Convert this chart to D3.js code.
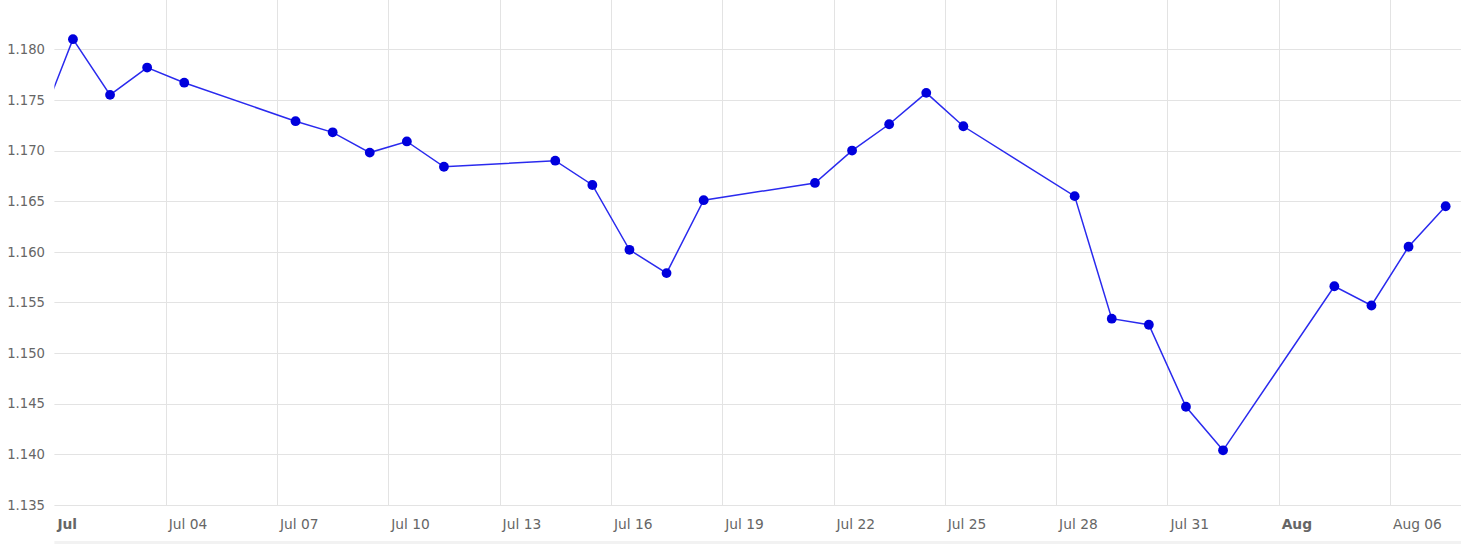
<!DOCTYPE html>
<html lang="en">
<head>
<meta charset="UTF-8">
<title>Rate chart</title>
<style>
  body { margin: 0; background: #fff; }
  svg { display: block; font-family: "DejaVu Sans", Verdana, sans-serif; }
</style>
</head>
<body>
<svg width="1461" height="544"></svg>
<script src="https://d3js.org/d3.v7.min.js"></script>
<script>
// trading days (Jun 30 is clipped at the left edge)
var dates = ["2025-06-30","2025-07-01","2025-07-02","2025-07-03","2025-07-04",
  "2025-07-07","2025-07-08","2025-07-09","2025-07-10","2025-07-11",
  "2025-07-14","2025-07-15","2025-07-16","2025-07-17","2025-07-18",
  "2025-07-21","2025-07-22","2025-07-23","2025-07-24","2025-07-25",
  "2025-07-28","2025-07-29","2025-07-30","2025-07-31","2025-08-01",
  "2025-08-04","2025-08-05","2025-08-06","2025-08-07"];
var values = [1.1716, 1.1810, 1.1755, 1.1782, 1.1767,
  1.1729, 1.1718, 1.1698, 1.1709, 1.1684,
  1.1690, 1.1666, 1.1602, 1.1579, 1.1651,
  1.1668, 1.1700, 1.1726, 1.1757, 1.1724,
  1.1655, 1.1534, 1.1528, 1.1447, 1.1404,
  1.1566, 1.1547, 1.1605, 1.1645];

var yTicks = [1.135, 1.140, 1.145, 1.150, 1.155, 1.160, 1.165, 1.170, 1.175, 1.180];
var xTickDates = ["2025-07-01","2025-07-04","2025-07-07","2025-07-10","2025-07-13",
  "2025-07-16","2025-07-19","2025-07-22","2025-07-25","2025-07-28","2025-07-31",
  "2025-08-03","2025-08-06"];
var xTickLabels = ["Jul","Jul 04","Jul 07","Jul 10","Jul 13","Jul 16","Jul 19",
  "Jul 22","Jul 25","Jul 28","Jul 31","Aug","Aug 06"];
var boldLabels = ["Jul","Aug"];

var svg = d3.select("svg");
var W = +svg.attr("width"), H = +svg.attr("height");
var pLeft = 54.4, pRight = W, pTop = 0, pBottom = 505;

var parse = d3.utcParse("%Y-%m-%d");
var day = 37.1;
var x = d3.scaleUtc()
  .domain([parse("2025-07-01"), parse("2025-08-07")])
  .range([pLeft, pLeft + 37 * day]);
var y = d3.scaleLinear().domain([1.135, 1.180]).range([pBottom, 49.3]);

// points sit at midday
var pts = dates.map(function (d, i) {
  return { t: d3.utcHour.offset(parse(d), 12), v: values[i] };
});

// faint band at bottom
svg.append("rect").attr("x", pLeft).attr("y", 541).attr("width", W - pLeft).attr("height", 3)
  .attr("fill", "#f2f2f2");

// horizontal grid
svg.append("g").selectAll("line").data(yTicks).join("line")
  .attr("x1", pLeft).attr("x2", pRight)
  .attr("y1", function (d) { return Math.round(y(d)) + 0.5; })
  .attr("y2", function (d) { return Math.round(y(d)) + 0.5; })
  .attr("stroke", "#e3e3e3").attr("stroke-width", 1);

// vertical grid (skip the one on the left edge)
svg.append("g").selectAll("line").data(xTickDates.slice(1)).join("line")
  .attr("x1", function (d) { return Math.round(x(parse(d))) + 0.5; })
  .attr("x2", function (d) { return Math.round(x(parse(d))) + 0.5; })
  .attr("y1", pTop).attr("y2", pBottom)
  .attr("stroke", "#e3e3e3").attr("stroke-width", 1);

// y labels
svg.append("g").selectAll("text").data(yTicks).join("text")
  .attr("x", 45).attr("y", function (d) { return y(d); })
  .attr("dy", "0.36em").attr("text-anchor", "end")
  .attr("font-size", 13.2).attr("fill", "#666")
  .text(function (d) { return d3.format(".3f")(d); });

// x labels, left-aligned just after the grid line
svg.append("g").selectAll("text").data(xTickDates).join("text")
  .attr("x", function (d) { return x(parse(d)) + 3; })
  .attr("y", 529)
  .attr("font-size", 13.8).attr("fill", "#666")
  .attr("font-weight", function (d, i) { return boldLabels.indexOf(xTickLabels[i]) >= 0 ? "bold" : "normal"; })
  .text(function (d, i) { return xTickLabels[i]; });

// clip for the series
svg.append("clipPath").attr("id", "plotclip")
  .append("rect").attr("x", pLeft).attr("y", pTop)
  .attr("width", pRight - pLeft).attr("height", pBottom - pTop + 5);

var line = d3.line()
  .x(function (d) { return x(d.t); })
  .y(function (d) { return y(d.v); });

var series = svg.append("g").attr("clip-path", "url(#plotclip)");
series.append("path").datum(pts)
  .attr("d", line).attr("fill", "none")
  .attr("stroke", "#2a2aee").attr("stroke-width", 1.5);

series.selectAll("circle").data(pts.slice(1)).join("circle")
  .attr("cx", function (d) { return x(d.t); })
  .attr("cy", function (d) { return y(d.v); })
  .attr("r", 4.9).attr("fill", "#0000dd");
</script>
</body>
</html>
